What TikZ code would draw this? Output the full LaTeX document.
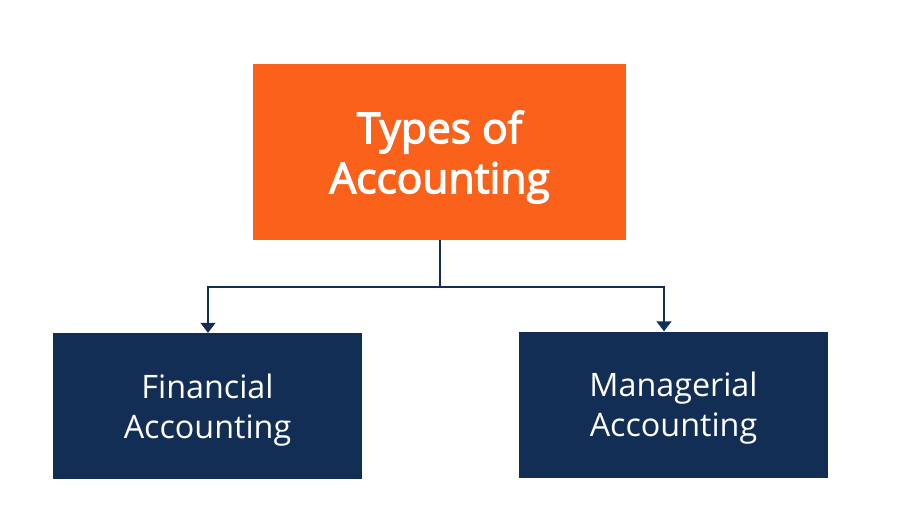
\documentclass[tikz,border=0pt]{standalone}
\usepackage{fontspec}
\setmainfont{Open Sans}
\newfontfamily\semib[FakeBold=3]{Open Sans}
\usetikzlibrary{arrows.meta}
\definecolor{orng}{HTML}{FA621C}
\definecolor{navy}{HTML}{132E55}
\begin{document}
\begin{tikzpicture}[x=1pt,y=-1pt,
  topbox/.style={fill=orng, draw=none, minimum width=373pt, minimum height=176pt, inner sep=0pt},
  subbox/.style={fill=navy, draw=none, minimum width=309pt, minimum height=146pt, inner sep=0pt},
  toptext/.style={text=white, align=center, inner sep=0pt, font=\semib\fontsize{42.5}{50}\selectfont},
  subtext/.style={text=white, align=center, inner sep=0pt, font=\fontsize{32.3}{40}\selectfont},
  conn/.style={draw=navy, line width=1.4pt},
  arr/.style={conn, -{Triangle[width=15pt,length=10pt]}}]
\useasboundingbox (0,0) rectangle (900,532);
\node[topbox] (top) at (439.5,152) {};
\node[toptext] (toptxt) at (439.5,157) {Types of\\Accounting};
\node[subbox] (fin) at (207.5,406) {};
\node[subtext] (fintxt) at (207.5,410) {Financial\\Accounting};
\node[subbox] (man) at (673.5,404.5) {};
\node[subtext] (mantxt) at (673.5,408.5) {Managerial\\Accounting};
\coordinate (j) at (440,287);
\draw[conn] (top.south -| j) -- (j);
\draw[arr] (j) -| (fin.north -| 208,0);
\draw[arr] (j) -| (man.north -| 664,0);
\end{tikzpicture}
\end{document}
